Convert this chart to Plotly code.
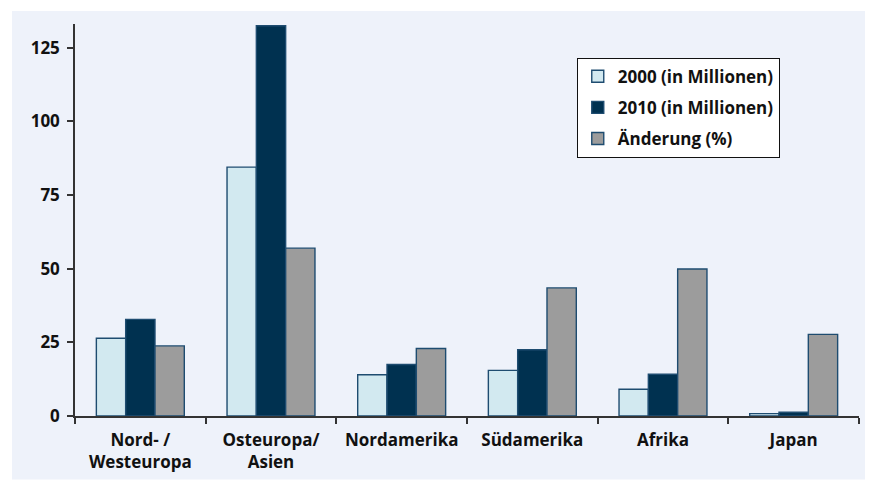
import plotly.graph_objects as go

categories = ["Nord- /<br>Westeuropa", "Osteuropa/<br>Asien", "Nordamerika", "Südamerika", "Afrika", "Japan"]
series_names = ["2000 (in Millionen)", "2010 (in Millionen)", "Änderung (%)"]
values_2000 = [26.4, 84.5, 14.0, 15.5, 9.1, 0.8]
values_2010 = [32.8, 132.5, 17.5, 22.5, 14.2, 1.3]
values_change = [23.8, 57.0, 22.9, 43.5, 49.9, 27.7]
y_ticks = [0, 25, 50, 75, 100, 125]

colors = ["#D2E9F0", "#003150", "#9C9C9C"]
outline = "#1E4C70"
font_family = "Open Sans"

fig = go.Figure()
for i, (name, vals) in enumerate(zip(series_names, [values_2000, values_2010, values_change])):
    fig.add_trace(go.Bar(
        x=categories, y=vals, name=name,
        marker=dict(color=colors[i], line=dict(color=outline, width=1.4)),
        legendgroup=f"g{i}",
    ))

# the page body adds an 8px margin, so the figure is 8px smaller and shifted
fig.update_layout(
    width=865, height=477,
    margin=dict(l=67, r=14, t=16, b=66),
    paper_bgcolor="white",
    plot_bgcolor="rgba(0,0,0,0)",
    barmode="group", bargap=0.327, bargroupgap=0,
    font=dict(family=font_family, size=17, color="#111111"),
    showlegend=True,
    legend=dict(
        x=0.640, y=0.914, xanchor="left", yanchor="top",
        bgcolor="white", bordercolor="#111111", borderwidth=1,
        font=dict(family=font_family, size=17, color="#111111", weight="bold"),
        traceorder="grouped", tracegroupgap=6, itemwidth=30,
    ),
    shapes=[dict(
        type="rect", xref="paper", yref="paper",
        x0=-0.0804, x1=1.03, y0=-0.162, y1=1.033,
        fillcolor="#EEF2FA", line=dict(width=0), layer="below",
    )],
)
fig.update_xaxes(
    showline=True, linecolor="#333333", linewidth=1.5,
    ticks="outside", ticklen=6, tickcolor="#333333", tickwidth=1.5,
    tickson="boundaries", showgrid=False, ticklabelstandoff=8,
    tickfont=dict(family=font_family, size=17, color="#111111", weight="bold"),
)
fig.update_yaxes(
    range=[0, 133.1], tickvals=y_ticks,
    showline=True, linecolor="#333333", linewidth=1.5,
    ticks="outside", ticklen=6, tickcolor="#333333", tickwidth=1.5,
    showgrid=False, zeroline=False, ticklabelstandoff=4,
    tickfont=dict(family=font_family, size=17, color="#111111", weight="bold"),
)
fig.write_html("out.html")
